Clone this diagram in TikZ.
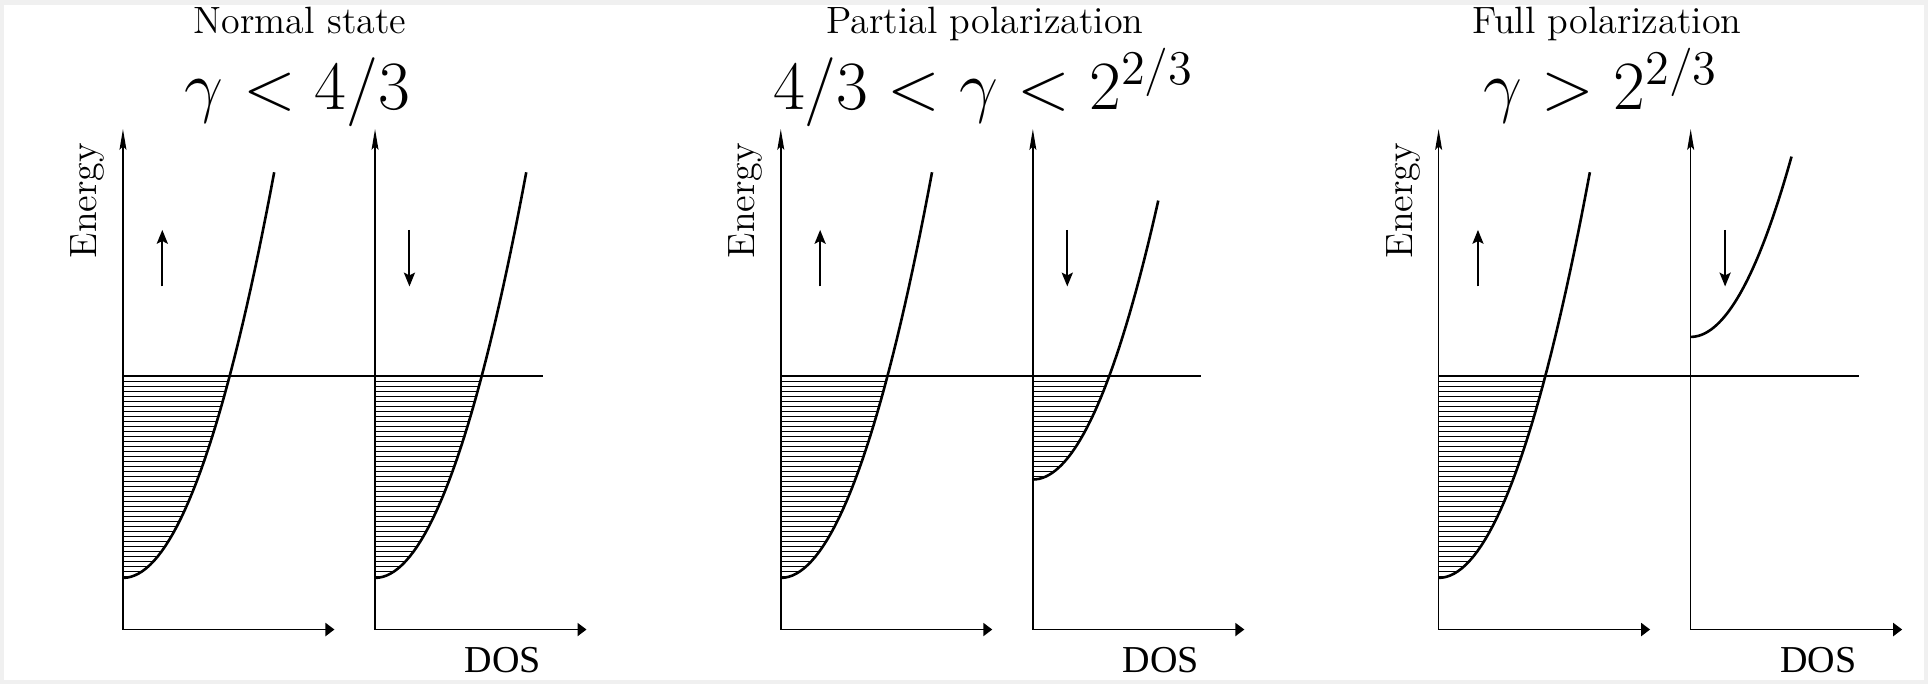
\RequirePackage{fix-cm}
\documentclass[tikz,border=0pt]{standalone}
\usepackage{fontspec}
\usepackage{tikz}
\usetikzlibrary{arrows.meta,positioning,calc}
\newfontfamily\timesfont{Liberation Serif}
\definecolor{framegray}{RGB}{240,240,240}

% energy axis + DOS axis of one spin channel
\newcommand{\dosaxes}[2]{%
  \coordinate (#1o) at (#2,44);
  \coordinate (#1e) at (#2,451);
  \coordinate (#1d) at ({#2+172},44);
  \draw[axis] (#1o) -- (#1e);
  \draw[dosaxis] (#1o) -- (#1d);
}
% parabolic band, hatched below the Fermi level
\newcommand{\dosband}[3]{%
  \begin{scope}
    \clip (#1,#2) -- plot[domain=0:#3,samples=40] ({#1+\x},{#2+0.0218*\x*\x}) -- (#1,451) -- cycle;
    \clip (#1,0) rectangle ({#1+200},250);
    \foreach \k in {1,...,50} \draw[hatch] (#1,{250-4.07*\k}) -- ++(200,0);
  \end{scope}
  \draw[band] plot[domain=0:#3,samples=40] ({#1+\x},{#2+0.0218*\x*\x});
}

\begin{document}
\begin{tikzpicture}[
    x=0.0125cm, y=0.0125cm,
    axis/.style={line width=0.45pt, -{Stealth[length=6pt,width=2pt,inset=1pt]}},
    dosaxis/.style={line width=0.45pt, -{Triangle[length=2.6pt,width=3.8pt]}},
    fermi/.style={line width=0.45pt},
    band/.style={line width=0.75pt},
    hatch/.style={line width=0.35pt},
    spin/.style={line width=0.6pt, -{Stealth[length=4pt,width=3.2pt,inset=0.8pt]}},
    title/.style={anchor=base, font=\fontsize{11}{13}\selectfont},
    cond/.style={anchor=base, font=\fontsize{20}{24}\selectfont},
    lbl/.style={font=\fontsize{11}{13}\selectfont},
    doslbl/.style={font=\fontsize{11}{13}\selectfont\timesfont}
]
\useasboundingbox (0,0) rectangle (1568,556);
\fill[framegray] (0,0) rectangle (1568,556);
\fill[white] (3,3) rectangle (1565,552);

% Normal state
\node[title] (title1) at (244,529) {Normal state};
\node[cond] (cond1) at (242,467) {$\gamma<4/3$};
\node[lbl, rotate=90] (en1) at (71,393) {Energy};
\node[doslbl] (dos1) at (409,19) {DOS};
\dosband{100}{86}{123}
\dosband{305}{86}{123}
\dosaxes{p1u}{100}
\dosaxes{p1d}{305}
\coordinate (f1a) at (100,250);
\coordinate (f1b) at (442,250);
\draw[fermi] (f1a) -- (f1b);
\coordinate (u1a) at (132,323);
\coordinate (u1b) at (132,369);
\draw[spin] (u1a) -- (u1b);
\coordinate (d1a) at (333,369);
\coordinate (d1b) at (333,323);
\draw[spin] (d1a) -- (d1b);

% Partial polarization
\node[title] (title2) at (801,529) {Partial polarization};
\node[cond] (cond2) at (800,467) {$4/3<\gamma<2^{2/3}$};
\node[lbl, rotate=90] (en2) at (606,393) {Energy};
\node[doslbl] (dos2) at (944,19) {DOS};
\dosband{635}{86}{123}
\dosband{840}{166}{102}
\dosaxes{p2u}{635}
\dosaxes{p2d}{840}
\coordinate (f2a) at (635,250);
\coordinate (f2b) at (977,250);
\draw[fermi] (f2a) -- (f2b);
\coordinate (u2a) at (667,323);
\coordinate (u2b) at (667,369);
\draw[spin] (u2a) -- (u2b);
\coordinate (d2a) at (868,369);
\coordinate (d2b) at (868,323);
\draw[spin] (d2a) -- (d2b);

% Full polarization
\node[title] (title3) at (1307,529) {Full polarization};
\node[cond] (cond3) at (1302,467) {$\gamma>2^{2/3}$};
\node[lbl, rotate=90] (en3) at (1141,393) {Energy};
\node[doslbl] (dos3) at (1479,19) {DOS};
\dosband{1170}{86}{123}
\dosband{1375}{282}{82}
\dosaxes{p3u}{1170}
\dosaxes{p3d}{1375}
\coordinate (f3a) at (1170,250);
\coordinate (f3b) at (1512,250);
\draw[fermi] (f3a) -- (f3b);
\coordinate (u3a) at (1202,323);
\coordinate (u3b) at (1202,369);
\draw[spin] (u3a) -- (u3b);
\coordinate (d3a) at (1403,369);
\coordinate (d3b) at (1403,323);
\draw[spin] (d3a) -- (d3b);

\end{tikzpicture}
\end{document}
